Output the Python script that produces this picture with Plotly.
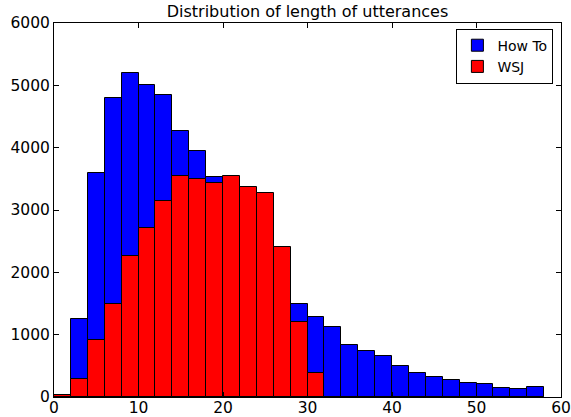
import plotly.graph_objects as go

bin_starts = list(range(0, 58, 2))
howto_counts = [20, 1250, 3600, 4790, 5190, 5010, 4850, 4260, 3950, 3530,
                3300, 2950, 2600, 2200, 1500, 1280, 1120, 840, 745, 650,
                490, 380, 325, 265, 225, 205, 145, 130, 160]
wsj_counts = [30, 290, 910, 1490, 2260, 2710, 3150, 3550, 3500, 3440,
              3540, 3370, 3270, 2400, 1200, 390, 0, 0, 0, 0,
              0, 0, 0, 0, 0, 0, 0, 0, 0]
bin_width = 2
x_ticks = [0, 10, 20, 30, 40, 50, 60]
y_ticks = [0, 1000, 2000, 3000, 4000, 5000, 6000]

centers = [b + bin_width / 2 for b in bin_starts]
font = "DejaVu Sans"

fig = go.Figure()
fig.add_trace(go.Bar(x=centers, y=howto_counts, width=bin_width, name="How To",
                     marker=dict(color="#0000ff", line=dict(color="black", width=1))))
fig.add_trace(go.Bar(x=centers, y=wsj_counts, width=bin_width, name="WSJ",
                     marker=dict(color="#ff0000", line=dict(color="black", width=1))))

axis_common = dict(showgrid=False, zeroline=False, showline=True, linecolor="black",
                   linewidth=1, mirror="allticks", ticks="inside", ticklen=5,
                   tickcolor="black", automargin=False,
                   tickfont=dict(family=font, size=15.5, color="black"))

fig.update_layout(
    width=571, height=417,
    margin=dict(l=54, r=10, t=23, b=20, autoexpand=False),
    barmode="overlay", bargap=0,
    paper_bgcolor="white", plot_bgcolor="white",
    title=dict(text="Distribution of length of utterances", x=0.5, xref="paper",
               xanchor="center", y=1 - 11 / 417, yref="container", yanchor="middle",
               font=dict(family=font, size=16, color="black")),
    xaxis=dict(range=[0, 60], tickvals=x_ticks, ticklabelstandoff=-4, **axis_common),
    yaxis=dict(range=[0, 6000], tickvals=y_ticks, **axis_common),
    legend=dict(x=0.985, y=0.985, xanchor="right", yanchor="top",
                bordercolor="black", borderwidth=1, bgcolor="white",
                font=dict(family=font, size=14, color="black"), itemwidth=30),
    showlegend=True,
)

fig.write_html("out.html", config={"displayModeBar": False},
               post_script="document.body.style.margin='0px';document.body.style.overflow='hidden';")
